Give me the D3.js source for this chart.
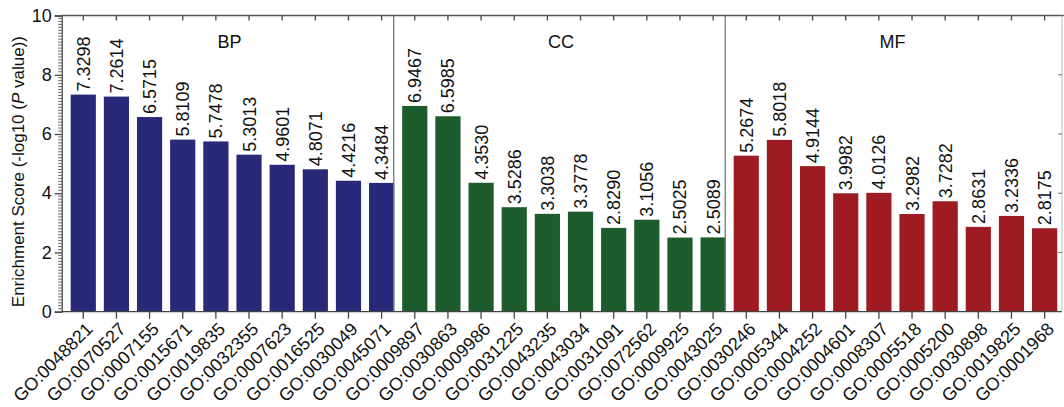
<!DOCTYPE html>
<html><head><meta charset="utf-8">
<script src="https://cdn.jsdelivr.net/npm/d3@7"></script>
<style>html,body{margin:0;padding:0;background:#fff;}svg{display:block;font-family:Arial,"Liberation Sans",sans-serif;}</style>
</head><body>
<svg id="chart" width="1064" height="407"></svg>
<script>
const groups = ["BP", "CC", "MF"];
const bpTerms = ["GO:0048821","GO:0070527","GO:0007155","GO:0015671","GO:0019835","GO:0032355","GO:0007623","GO:0016525","GO:0030049","GO:0045071"];
const bpValues = [7.3298,7.2614,6.5715,5.8109,5.7478,5.3013,4.9601,4.8071,4.4216,4.3484];
const ccTerms = ["GO:0009897","GO:0030863","GO:0009986","GO:0031225","GO:0043235","GO:0043034","GO:0031091","GO:0072562","GO:0009925","GO:0043025"];
const ccValues = [6.9467,6.5985,4.3530,3.5286,3.3038,3.3778,2.8290,3.1056,2.5025,2.5089];
const mfTerms = ["GO:0030246","GO:0005344","GO:0004252","GO:0004601","GO:0008307","GO:0005518","GO:0005200","GO:0030898","GO:0019825","GO:0001968"];
const mfValues = [5.2674,5.8018,4.9144,3.9982,4.0126,3.2982,3.7282,2.8631,3.2336,2.8175];
const yTicks = [0,2,4,6,8,10];
const colors = {BP:"#29297a", CC:"#1d5d2d", MF:"#9d1b21"};

const data = [];
[[bpTerms,bpValues,"BP"],[ccTerms,ccValues,"CC"],[mfTerms,mfValues,"MF"]].forEach(([t,v,g])=>{
  t.forEach((term,i)=>data.push({term, value:v[i], group:g}));
});

const svg = d3.select("#chart");
const mLeft = 61.7, mTop = 15.5, mBottom = 311.7, mRight = 1062;
const x = d3.scaleBand().domain(data.map(d=>d.term)).range([66.7, 1061.2]).paddingInner(0.24).paddingOuter(0.12);
const y = d3.scaleLinear().domain([0,10]).range([mBottom, mTop]);
const axisColor = "#444";

// bars
svg.append("g").selectAll("rect").data(data).join("rect")
  .attr("x", d=>x(d.term)).attr("width", x.bandwidth())
  .attr("y", d=>y(d.value)).attr("height", d=>y(0)-y(d.value))
  .attr("fill", d=>colors[d.group]);

// value labels
svg.append("g").selectAll("text").data(data).join("text")
  .attr("transform", d=>`translate(${x(d.term)+x.bandwidth()/2},${y(d.value)-3}) rotate(-90)`)
  .attr("dy","0.36em").attr("text-anchor","start")
  .attr("font-size","18px").attr("fill","#111")
  .text(d=>d.value.toFixed(4));

// separators
groups.slice(0,2).forEach((g,gi)=>{
  const last = data.filter(d=>d.group===g).slice(-1)[0];
  const sx = x(last.term)+x.bandwidth()-0.5;
  svg.append("line").attr("x1",sx).attr("x2",sx).attr("y1",mTop).attr("y2",mBottom)
    .attr("stroke","#777").attr("stroke-width",1.3);
});

// group labels
groups.forEach(g=>{
  const items = data.filter(d=>d.group===g);
  const cx = (x(items[0].term)+x(items[items.length-1].term)+x.bandwidth())/2 - 3;
  svg.append("text").attr("x",cx).attr("y",48).attr("text-anchor","middle")
    .attr("font-size","18px").attr("fill","#111").text(g);
});

// left axis
const yAxis = d3.axisLeft(y).tickValues(yTicks).tickSize(7).tickPadding(3).tickFormat(d3.format("d"));
const ga = svg.append("g").attr("transform",`translate(${mLeft},0)`).call(yAxis);
ga.select(".domain").attr("stroke",axisColor).attr("stroke-width",1.3);
ga.selectAll(".tick line").attr("stroke",axisColor).attr("stroke-width",1.3);
ga.selectAll(".tick text").attr("font-size","18px").attr("fill","#111").attr("font-family","Arial,'Liberation Sans',sans-serif");
// minor ticks
const minor = d3.range(0,100).map(i=>i/10).filter(v=>Math.abs(v%2)>1e-6 && Math.abs(v%2-2)>1e-6);
svg.append("g").selectAll("line").data(minor).join("line")
  .attr("x1",mLeft-3.5).attr("x2",mLeft).attr("y1",d=>y(d)).attr("y2",d=>y(d))
  .attr("stroke","#555").attr("stroke-width",0.9);

// bottom axis
const xAxis = d3.axisBottom(x).tickSize(7).tickFormat("");
const gb = svg.append("g").attr("transform",`translate(0,${mBottom})`).call(xAxis);
gb.select(".domain").remove();
gb.selectAll(".tick line").attr("stroke",axisColor).attr("stroke-width",1.3);
svg.append("line").attr("x1",mLeft).attr("x2",mRight).attr("y1",mBottom).attr("y2",mBottom).attr("stroke",axisColor).attr("stroke-width",1.3);
svg.append("g").selectAll("text").data(data).join("text")
  .attr("transform", d=>`translate(${x(d.term)+x.bandwidth()/2+6},${mBottom+14}) rotate(-45)`)
  .attr("text-anchor","end").attr("dy","0.35em")
  .attr("font-size","18px").attr("fill","#111").text(d=>d.term);

// top axis
const xTop = d3.axisTop(x).tickSize(-5).tickFormat("");
const gt = svg.append("g").attr("transform",`translate(0,${mTop})`).call(xTop);
gt.select(".domain").remove();
gt.selectAll(".tick line").attr("stroke",axisColor).attr("stroke-width",1.3);
svg.append("line").attr("x1",mLeft).attr("x2",1064).attr("y1",mTop).attr("y2",mTop).attr("stroke","#555").attr("stroke-width",1.6);

// right axis (faint)
svg.append("line").attr("x1",mRight).attr("x2",mRight).attr("y1",mTop).attr("y2",mBottom).attr("stroke","#bbb").attr("stroke-width",1);
svg.append("g").selectAll("line").data(yTicks.filter(v=>v>0&&v<10)).join("line")
  .attr("x1",mRight-4).attr("x2",mRight).attr("y1",d=>y(d)).attr("y2",d=>y(d))
  .attr("stroke","#888").attr("stroke-width",1.2);

// y title
const yt = svg.append("text").attr("transform",`translate(24,${(mTop+mBottom)/2+8}) rotate(-90)`)
  .attr("text-anchor","middle").attr("font-size","17px").attr("fill","#111");
yt.append("tspan").text("Enrichment Score (-log10 (");
yt.append("tspan").attr("font-style","italic").text("P");
yt.append("tspan").text(" value))");
</script>
</body></html>
